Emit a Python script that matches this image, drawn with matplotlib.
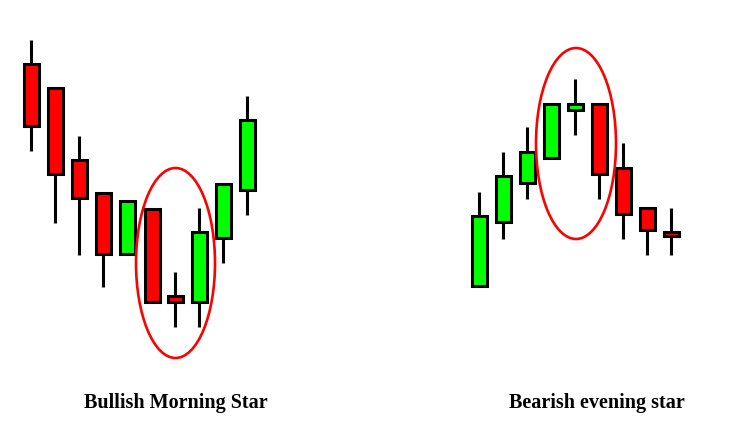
import matplotlib
matplotlib.use("Agg")
import matplotlib.pyplot as plt
from matplotlib.patches import Rectangle, Ellipse

# Bullish morning star (left) - values in image units (y grows downward)
bull_x = [31, 55, 79, 103, 127, 152, 175, 199, 223, 247]
bull_open = [64, 88, 160, 193, 254, 209, 296, 302, 238, 190]
bull_close = [126, 174, 198, 254, 201, 302, 302, 232, 184, 120]
bull_high = [40, 88, 136, 193, 201, 209, 272, 208, 184, 96]
bull_low = [151, 223, 255, 287, 254, 302, 327, 327, 263, 215]

# Bearish evening star (right)
bear_x = [479, 503, 527, 551, 575, 599, 623, 647, 671]
bear_open = [286, 222, 183, 158, 110, 104, 168, 208, 231.5]
bear_close = [216, 176, 152, 104, 104, 174, 214, 230, 236]
bear_high = [192, 152, 127, 104, 79, 104, 143, 208, 208]
bear_low = [286, 239, 199, 158, 135, 199, 239, 255, 255]

titles = ["Bullish Morning Star", "Bearish evening star"]
title_x = [176, 597]

GREEN = "#00FF00"
RED = "#FF0000"

fig = plt.figure(figsize=(7.34, 4.36), dpi=100)
ax = fig.add_axes([0, 0, 1, 1])
ax.set_xlim(0, 734)
ax.set_ylim(436, 0)
ax.axis("off")

BW = 15  # body width
LW = 2.2  # border width (pt)


def draw(xs, o, c, h, l):
    for x, op, cl, hi, lo in zip(xs, o, c, h, l):
        # in image coords: smaller y = higher price; bullish if close above open
        col = GREEN if cl < op else RED
        ax.plot([x, x], [hi, lo], color="black", lw=LW, solid_capstyle="butt", zorder=1)
        top = min(op, cl)
        hgt = abs(op - cl)
        ax.add_patch(Rectangle((x - BW / 2, top), BW, hgt, facecolor=col,
                               edgecolor="black", lw=LW, zorder=2, joinstyle="miter"))


draw(bull_x, bull_open, bull_close, bull_high, bull_low)
draw(bear_x, bear_open, bear_close, bear_high, bear_low)

# circled pattern areas
ax.add_patch(Ellipse((175.5, 263), 79, 190, fill=False, edgecolor=RED, lw=1.9, zorder=3))
ax.add_patch(Ellipse((576, 143.5), 80, 191, fill=False, edgecolor=RED, lw=1.9, zorder=3))

for t, x in zip(titles, title_x):
    ax.text(x, 403, t, ha="center", va="center", fontsize=14.5, fontweight="bold",
            family="Liberation Serif", color="black")

fig.savefig("out.png", dpi=100)
